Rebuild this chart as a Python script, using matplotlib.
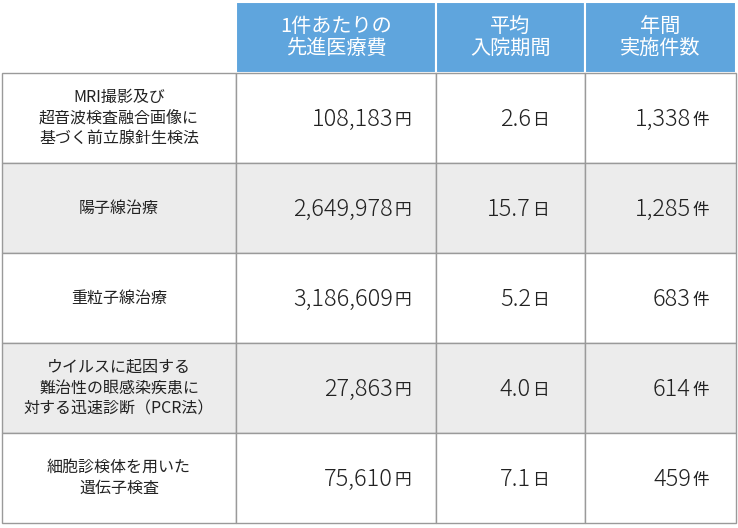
import matplotlib
matplotlib.use("Agg")
import matplotlib.pyplot as plt
from matplotlib.patches import Rectangle

plt.rcParams['font.family'] = ['Noto Sans CJK JP', 'DejaVu Sans']

headers = ["1件あたりの\n先進医療費", "平均\n入院期間", "年間\n実施件数"]
row_labels = ["MRI撮影及び\n超音波検査融合画像に\n基づく前立腺針生検法",
              "陽子線治療",
              "重粒子線治療",
              "ウイルスに起因する\n難治性の眼感染疾患に\n対する迅速診断（PCR法）",
              "細胞診検体を用いた\n遺伝子検査"]
cost = ["108,183", "2,649,978", "3,186,609", "27,863", "75,610"]
stay = ["2.6", "15.7", "5.2", "4.0", "7.1"]
count = ["1,338", "1,285", "683", "614", "459"]
units = ["円", "日", "件"]

W, H = 738, 528
fig = plt.figure(figsize=(W/100, H/100), dpi=100)
ax = fig.add_axes([0, 0, 1, 1])
ax.set_xlim(0, W); ax.set_ylim(H, 0); ax.axis('off')

xs = [2, 236, 436, 585, 736]
hy0, hy1 = 2, 73
rh = 90
blue = '#5fa5dd'
grid = '#9a9a9a'
unit_x = [393, 531, 691]

for j, h in enumerate(headers):
    ax.add_patch(Rectangle((xs[j+1], hy0), xs[j+2]-xs[j+1], hy1-hy0, fc=blue, ec='white', lw=1.5))
    ax.text((xs[j+1]+xs[j+2])/2, (hy0+hy1)/2, h, ha='center', va='center',
            color='white', fontsize=14.5, linespacing=1.05)

cols = [cost, stay, count]
for i in range(len(row_labels)):
    y0 = hy1 + i*rh
    fc = '#ececec' if i % 2 == 1 else 'white'
    for j in range(4):
        ax.add_patch(Rectangle((xs[j], y0), xs[j+1]-xs[j], rh, fc=fc, ec=grid, lw=1))
    ax.text((xs[0]+xs[1])/2, y0+rh/2, row_labels[i], ha='center', va='center',
            fontsize=11.5, linespacing=1.3, color='#222222')
    for j in range(3):
        ax.text(unit_x[j], y0+rh/2+1, cols[j][i], ha='right', va='center',
                fontsize=17, color='#222222', fontweight='light')
        ax.text(unit_x[j]+1, y0+rh/2+3, units[j], ha='left', va='center',
                fontsize=12, color='#222222')

fig.savefig('out.png', dpi=100)
